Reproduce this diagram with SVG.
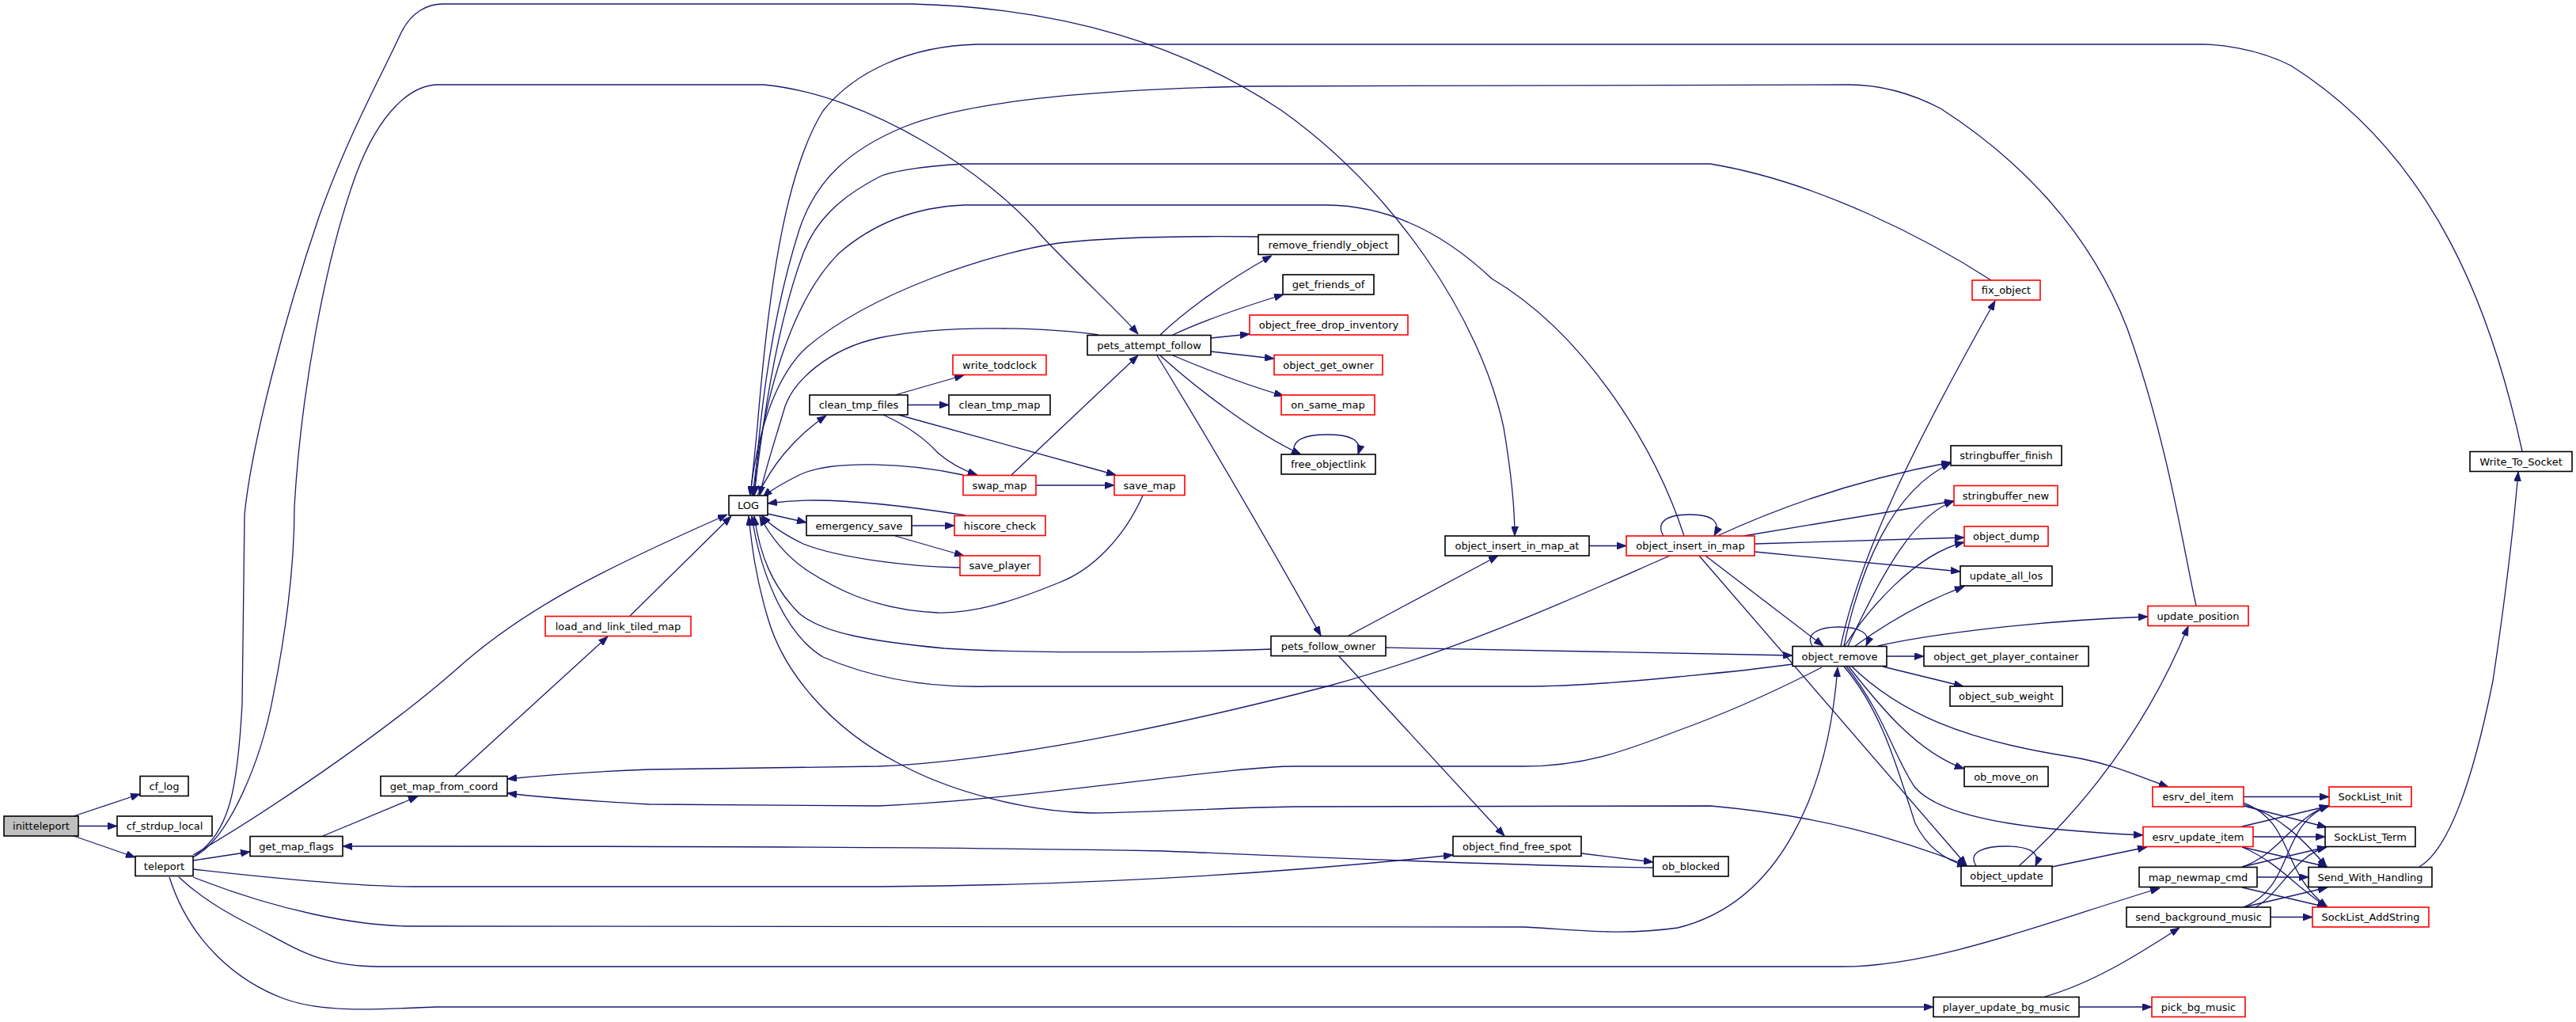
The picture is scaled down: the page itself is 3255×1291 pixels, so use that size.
<svg xmlns="http://www.w3.org/2000/svg" width="3255" height="1291" viewBox="0 0 3255 1291">
<style>
.n rect{fill:#fff;stroke:#000;stroke-width:1.6}
.n.r rect{stroke:#ff0000}
.n.g rect{fill:#bfbfbf}
.n text{font-family:"DejaVu Sans","Liberation Sans",sans-serif;font-size:13px;text-anchor:middle;fill:#000}
#edges path{fill:none;stroke:#191970;stroke-width:1.3;marker-end:url(#a)}
</style>
<defs>
<marker id="a" viewBox="0 0 12 9" refX="12" refY="4.5" markerWidth="12" markerHeight="9" markerUnits="userSpaceOnUse" orient="auto">
<path d="M0,0 L12,4.5 L0,9 z" fill="#191970" stroke="#191970" stroke-width="0.8"/>
</marker>
</defs>
<rect width="3255" height="1291" fill="#fff"/>
<g id="edges">
<path d="M93,1031 L177,1003"/>
<path d="M99,1043.5 L148,1043.5"/>
<path d="M93,1056 L171,1083"/>
<path d="M244,1087 L316,1076"/>
<path d="M408,1056 L528,1006"/>
<path d="M575,980 L768,804"/>
<path d="M796,778 L924,652"/>
<path d="M244,1080 C330,1030 480,930 575,847 C660,770 760,720 919,650"/>
<path d="M246,1081 C290,1050 300,1000 306,889 L309,650 C318,560 360,400 403,274 C440,170 480,100 507,41 C520,15 540,5 560,5 L1152,5 C1350,10 1500,60 1620,140 C1760,240 1870,400 1900,540 C1910,600 1914,650 1914,677"/>
<path d="M244,1083 C290,1060 330,960 345,880 C365,780 372,700 372,640 C380,500 410,330 450,220 C480,140 520,107 554,107 L965,107 C1100,120 1250,220 1317,299 C1370,355 1410,390 1438,422"/>
<path d="M244,1098 C350,1110 450,1120 523,1120 L1110,1120 C1400,1118 1650,1100 1836,1080"/>
<path d="M2089,1096 C1900,1094 1600,1080 1470,1075 C1200,1070 900,1069 433,1069"/>
<path d="M244,1108 C350,1150 450,1170 523,1170 L1926,1171 C2000,1175 2050,1182 2120,1172 C2250,1140 2310,1000 2322,843"/>
<path d="M226,1108 C260,1140 300,1160 314,1167 C370,1195 400,1221 480,1221 L2327,1221 C2450,1221 2600,1160 2729,1122"/>
<path d="M214,1108 C240,1190 300,1240 360,1262 C410,1280 480,1275 549,1272 L2443,1272"/>
<path d="M2110,702 C2000,750 1850,820 1677,867 C1550,900 1300,960 1110,968 L820,972 C740,975 680,980 641,984"/>
<path d="M2302,843 C2230,880 2170,905 2120,923 C2050,950 2000,968 1926,968 L1636,968 C1550,968 1300,1010 1110,1018 L820,1016 C750,1012 690,1008 641,1002"/>
<path d="M2485,1093 C2400,1060 2300,1030 2161,1018 L1636,1019 C1550,1020 1470,1026 1380,1027 C1300,1026 1200,1000 1135,964 C1050,920 990,850 970,780 C955,730 950,690 946,652"/>
<path d="M2265,839 C2200,848 2150,852 2120,855 C2050,862 1980,867 1926,867 L1250,867 C1180,869 1110,860 1040,830 C990,800 960,720 950,652"/>
<path d="M1606,820 C1500,824 1300,826 1193,819 C1100,810 1040,800 1010,775 C975,740 960,700 953,652"/>
<path d="M1751,818 C1950,822 2150,826 2265,828"/>
<path d="M1704,803 L1893,702"/>
<path d="M1692,829 L1901,1056"/>
<path d="M1998,1078 L2089,1089"/>
<path d="M2008,689.5 L2055,689.5"/>
<path d="M1462,449 C1530,560 1600,680 1669,803"/>
<path d="M1466,423 C1490,400 1540,360 1607,323"/>
<path d="M1482,423 C1520,405 1570,388 1622,372"/>
<path d="M1530,427 L1579,422"/>
<path d="M1530,444 L1610,453"/>
<path d="M1482,449 C1520,465 1570,485 1622,500"/>
<path d="M1466,449 C1500,480 1580,545 1644,574"/>
<path d="M1636,574 C1630,555 1650,549 1677,549 C1705,549 1722,555 1716,574"/>
<path d="M1388,423 C1330,415 1200,408 1110,427 C1050,440 1000,480 990,520 C975,570 965,600 960,626"/>
<path d="M3187,570 C3150,400 3080,200 2895,83 C2850,60 2800,56 2783,56 L1235,56 C1150,58 1080,90 1040,140 C990,220 970,380 957,539 C953,580 950,610 948,626"/>
<path d="M2775,765 C2760,700 2740,560 2688,415 C2640,290 2550,200 2452,137 C2400,110 2360,107 2336,107 L1578,109 C1400,113 1230,125 1143,160 C1070,190 1030,230 1010,290 C975,400 960,520 953,626"/>
<path d="M2516,354 C2440,305 2300,230 2161,207 L1218,207 C1160,210 1120,218 1110,224 C1060,250 1030,280 1015,320 C985,400 965,520 953,626"/>
<path d="M2128,677 C2090,560 2000,420 1885,352 C1830,300 1760,260 1677,259 L1218,259 C1150,262 1100,285 1060,320 C1000,380 965,500 951,626"/>
<path d="M1590,299 C1500,298 1400,300 1338,307 C1250,320 1100,370 1019,439 C975,480 955,560 948,626"/>
<path d="M957,626 C975,590 1000,555 1044,525"/>
<path d="M1217,600 C1150,585 1050,580 1010,600 C990,610 975,618 964,628"/>
<path d="M1220,651 C1150,640 1080,632 1030,632 C1000,632 985,634 970,636"/>
<path d="M970,649 L1019,660"/>
<path d="M1213,717 C1150,716 1060,705 1015,687 C990,675 975,665 962,651"/>
<path d="M1444,626 C1420,680 1380,720 1338,736 C1280,760 1230,775 1185,774 C1100,770 1050,740 1019,720 C990,700 972,675 960,652"/>
<path d="M1131,499 L1218,474"/>
<path d="M1147,511.5 L1199,511.5"/>
<path d="M1116,524 C1140,535 1165,550 1185,572 C1200,585 1220,595 1235,600"/>
<path d="M1135,524 L1410,600"/>
<path d="M1278,600 L1438,449"/>
<path d="M1309,613 L1408,613"/>
<path d="M1152,664 L1206,664"/>
<path d="M1131,677 L1218,702"/>
<path d="M2102,677 C2092,660 2105,650 2135,650 C2165,650 2175,660 2166,677"/>
<path d="M2217,687 L2482,679"/>
<path d="M2217,697 L2477,722"/>
<path d="M2155,702 L2304,816"/>
<path d="M2147,702 L2485,1093"/>
<path d="M2170,677 C2250,640 2350,605 2465,584"/>
<path d="M2203,677 L2469,633"/>
<path d="M2326,816 C2350,700 2420,560 2521,380"/>
<path d="M2330,816 C2350,720 2390,620 2465,585"/>
<path d="M2335,816 C2380,720 2420,650 2469,633"/>
<path d="M2331,816 C2360,770 2420,700 2482,685"/>
<path d="M2344,816 C2380,790 2430,760 2482,741"/>
<path d="M2290,816 C2280,800 2300,792 2323,792 C2350,792 2365,800 2358,816"/>
<path d="M2373,816 C2420,805 2550,785 2714,779"/>
<path d="M2384,829 L2431,829"/>
<path d="M2379,842 L2481,867"/>
<path d="M2336,842 C2370,885 2420,950 2482,971"/>
<path d="M2340,842 C2400,900 2480,935 2617,956 C2670,965 2700,980 2740,994"/>
<path d="M2333,842 C2380,900 2395,960 2420,995 C2460,1040 2600,1050 2708,1055"/>
<path d="M2330,842 C2380,900 2400,980 2420,1040 C2440,1080 2470,1090 2485,1094"/>
<path d="M2497,1094 C2485,1075 2510,1069 2535,1069 C2560,1069 2580,1075 2572,1094"/>
<path d="M2551,1094 C2600,1050 2700,950 2765,791"/>
<path d="M2593,1095 L2713,1070"/>
<path d="M2584,1259 C2650,1240 2710,1200 2754,1172"/>
<path d="M2627,1272 L2719,1272"/>
<path d="M2835,1006.5 L2943,1006.5"/>
<path d="M2835,1018 L2940,1045"/>
<path d="M2835,1016 C2880,1030 2910,1060 2940,1095"/>
<path d="M2835,1014 C2900,1040 2880,1100 2941,1146"/>
<path d="M2833,1044 L2943,1018"/>
<path d="M2847,1057 L2938,1057"/>
<path d="M2833,1070 L2941,1095"/>
<path d="M2833,1070 C2880,1090 2900,1120 2941,1146"/>
<path d="M2833,1095 C2880,1080 2900,1030 2943,1018"/>
<path d="M2833,1095 L2940,1070"/>
<path d="M2852,1108 L2917,1108"/>
<path d="M2833,1121 L2940,1146"/>
<path d="M2835,1146 C2900,1120 2880,1040 2943,1018"/>
<path d="M2850,1146 C2880,1130 2900,1080 2940,1070"/>
<path d="M2835,1146 L2941,1121"/>
<path d="M2869,1158.5 L2922,1158.5"/>
<path d="M3057,1095 C3100,1070 3130,960 3150,860 C3165,760 3175,680 3182,596"/>
</g>
<g id="initteleport" class="n g"><rect x="5" y="1031" width="94" height="25"/><text x="52" y="1048">initteleport</text></g>
<g id="cf_log" class="n"><rect x="177" y="980.5" width="61" height="25"/><text x="207.5" y="997.5">cf_log</text></g>
<g id="cf_strdup_local" class="n"><rect x="148" y="1031" width="120" height="25"/><text x="208" y="1048">cf_strdup_local</text></g>
<g id="teleport" class="n"><rect x="171" y="1081.5" width="73" height="25"/><text x="207.5" y="1098.5">teleport</text></g>
<g id="get_map_flags" class="n"><rect x="316" y="1056.5" width="117" height="25"/><text x="374.5" y="1073.5">get_map_flags</text></g>
<g id="get_map_from_coord" class="n"><rect x="481" y="980.5" width="160" height="25"/><text x="561" y="997.5">get_map_from_coord</text></g>
<g id="load_and_link_tiled_map" class="n r"><rect x="689" y="778.5" width="184" height="25"/><text x="781" y="795.5">load_and_link_tiled_map</text></g>
<g id="LOG" class="n"><rect x="921" y="626" width="49" height="25"/><text x="945.5" y="643">LOG</text></g>
<g id="clean_tmp_files" class="n"><rect x="1023" y="499" width="124" height="25"/><text x="1085" y="516">clean_tmp_files</text></g>
<g id="emergency_save" class="n"><rect x="1019" y="651.5" width="133" height="25"/><text x="1085.5" y="668.5">emergency_save</text></g>
<g id="write_todclock" class="n r"><rect x="1204" y="448.5" width="118" height="25"/><text x="1263" y="465.5">write_todclock</text></g>
<g id="clean_tmp_map" class="n"><rect x="1199" y="499" width="128" height="25"/><text x="1263" y="516">clean_tmp_map</text></g>
<g id="swap_map" class="n r"><rect x="1217" y="600.5" width="92" height="25"/><text x="1263" y="617.5">swap_map</text></g>
<g id="hiscore_check" class="n r"><rect x="1206" y="651.5" width="115" height="25"/><text x="1263.5" y="668.5">hiscore_check</text></g>
<g id="save_player" class="n r"><rect x="1213" y="702" width="101" height="25"/><text x="1263.5" y="719">save_player</text></g>
<g id="save_map" class="n r"><rect x="1408" y="600.5" width="89" height="25"/><text x="1452.5" y="617.5">save_map</text></g>
<g id="pets_attempt_follow" class="n"><rect x="1374" y="423.5" width="156" height="25"/><text x="1452" y="440.5">pets_attempt_follow</text></g>
<g id="remove_friendly_object" class="n"><rect x="1590" y="296.5" width="177" height="25"/><text x="1678.5" y="313.5">remove_friendly_object</text></g>
<g id="get_friends_of" class="n"><rect x="1621" y="347" width="115" height="25"/><text x="1678.5" y="364">get_friends_of</text></g>
<g id="object_free_drop_inventory" class="n r"><rect x="1579" y="398" width="200" height="25"/><text x="1679" y="415">object_free_drop_inventory</text></g>
<g id="object_get_owner" class="n r"><rect x="1610" y="448.5" width="137" height="25"/><text x="1678.5" y="465.5">object_get_owner</text></g>
<g id="on_same_map" class="n r"><rect x="1619" y="499" width="118" height="25"/><text x="1678" y="516">on_same_map</text></g>
<g id="free_objectlink" class="n"><rect x="1619" y="574" width="119" height="25"/><text x="1678.5" y="591">free_objectlink</text></g>
<g id="pets_follow_owner" class="n"><rect x="1606" y="803.5" width="145" height="25"/><text x="1678.5" y="820.5">pets_follow_owner</text></g>
<g id="object_insert_in_map_at" class="n"><rect x="1826" y="677" width="182" height="25"/><text x="1917" y="694">object_insert_in_map_at</text></g>
<g id="object_find_free_spot" class="n"><rect x="1836" y="1056.5" width="162" height="25"/><text x="1917" y="1073.5">object_find_free_spot</text></g>
<g id="ob_blocked" class="n"><rect x="2089" y="1082" width="95" height="25"/><text x="2136.5" y="1099">ob_blocked</text></g>
<g id="object_insert_in_map" class="n r"><rect x="2055" y="677" width="162" height="25"/><text x="2136" y="694">object_insert_in_map</text></g>
<g id="fix_object" class="n r"><rect x="2492" y="354" width="86" height="25"/><text x="2535" y="371">fix_object</text></g>
<g id="stringbuffer_finish" class="n"><rect x="2465" y="563" width="140" height="25"/><text x="2535" y="580">stringbuffer_finish</text></g>
<g id="stringbuffer_new" class="n r"><rect x="2469" y="613.5" width="131" height="25"/><text x="2534.5" y="630.5">stringbuffer_new</text></g>
<g id="object_dump" class="n r"><rect x="2482" y="665" width="106" height="25"/><text x="2535" y="682">object_dump</text></g>
<g id="update_all_los" class="n"><rect x="2477" y="715" width="116" height="25"/><text x="2535" y="732">update_all_los</text></g>
<g id="update_position" class="n r"><rect x="2714" y="765.5" width="127" height="25"/><text x="2777.5" y="782.5">update_position</text></g>
<g id="object_remove" class="n"><rect x="2265" y="816.5" width="119" height="25"/><text x="2324.5" y="833.5">object_remove</text></g>
<g id="object_get_player_container" class="n"><rect x="2431" y="816.5" width="208" height="25"/><text x="2535" y="833.5">object_get_player_container</text></g>
<g id="object_sub_weight" class="n"><rect x="2464" y="867" width="142" height="25"/><text x="2535" y="884">object_sub_weight</text></g>
<g id="ob_move_on" class="n"><rect x="2482" y="968.5" width="106" height="25"/><text x="2535" y="985.5">ob_move_on</text></g>
<g id="esrv_del_item" class="n r"><rect x="2720" y="994" width="115" height="25"/><text x="2777.5" y="1011">esrv_del_item</text></g>
<g id="esrv_update_item" class="n r"><rect x="2708" y="1044.5" width="139" height="25"/><text x="2777.5" y="1061.5">esrv_update_item</text></g>
<g id="object_update" class="n"><rect x="2478" y="1094" width="115" height="25"/><text x="2535.5" y="1111">object_update</text></g>
<g id="map_newmap_cmd" class="n"><rect x="2703" y="1095.5" width="149" height="25"/><text x="2777.5" y="1112.5">map_newmap_cmd</text></g>
<g id="send_background_music" class="n"><rect x="2687" y="1146" width="182" height="25"/><text x="2778" y="1163">send_background_music</text></g>
<g id="player_update_bg_music" class="n"><rect x="2443" y="1259.5" width="184" height="25"/><text x="2535" y="1276.5">player_update_bg_music</text></g>
<g id="pick_bg_music" class="n r"><rect x="2719" y="1259.5" width="118" height="25"/><text x="2778" y="1276.5">pick_bg_music</text></g>
<g id="SockList_Init" class="n r"><rect x="2943" y="994" width="104" height="25"/><text x="2995" y="1011">SockList_Init</text></g>
<g id="SockList_Term" class="n"><rect x="2938" y="1044.5" width="114" height="25"/><text x="2995" y="1061.5">SockList_Term</text></g>
<g id="Send_With_Handling" class="n"><rect x="2917" y="1095.5" width="156" height="25"/><text x="2995" y="1112.5">Send_With_Handling</text></g>
<g id="SockList_AddString" class="n r"><rect x="2922" y="1146" width="147" height="25"/><text x="2995.5" y="1163">SockList_AddString</text></g>
<g id="Write_To_Socket" class="n"><rect x="3121" y="570.5" width="129" height="25"/><text x="3185.5" y="587.5">Write_To_Socket</text></g>
</svg>
